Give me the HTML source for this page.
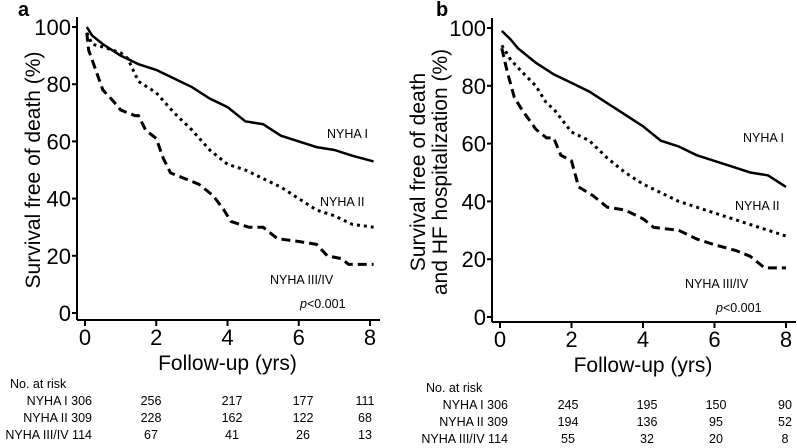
<!DOCTYPE html>
<html><head><meta charset="utf-8"><style>
body{margin:0;background:#fff}
svg text{font-family:"Liberation Sans",Arial,sans-serif;fill:#000}
</style></head><body>
<svg width="797" height="443" viewBox="0 0 797 443">
<g id="pa"></g>
<g id="pb"></g>
</svg>
<script>
const xTicks=[0,2,4,6,8];
const yTicks=[0,20,40,60,80,100];
const aT1=[0.05,0.2,0.5,1,1.5,2,2.5,3,3.5,4,4.5,5,5.5,6,6.5,7,7.5,8.1];
const aV1=[100,97,94,90,87,85,82,79,75,72,67,66,62,60,58,57,55,53];
const aT2=[0.05,0.2,0.5,1,1.2,1.5,2,2.5,3,3.5,4,4.5,5,5.5,6,6.5,7,7.5,8.1];
const aV2=[98,94,93,91,89,81,77,70,64,57,52,50,47,44,40,36,34,31,30];
const aT3=[0.05,0.1,0.3,0.5,0.8,1,1.4,1.5,1.7,2,2.2,2.4,2.8,3.2,3.6,3.9,4.1,4.6,5,5.4,6,6.5,6.8,7.2,7.4,8.1];
const aV3=[98,92,85,78,74,71,69,69,64,61,54,49,47,45,41,36,32,30,30,26,25,24,20,19,17,17];
const bT1=[0.05,0.3,0.5,1,1.5,2,2.5,3,3.5,4,4.5,5,5.5,6,6.5,7,7.5,8];
const bV1=[99,96,93,88,84,81,78,74,70,66,61,59,56,54,52,50,49,45];
const bT2=[0.05,0.3,0.6,1,1.3,1.5,2,2.5,3,3.5,4,4.5,5,5.5,6,6.5,7,7.5,8];
const bV2=[94,89,85,80,74,72,64,61,55,50,46,43,40,38,36,34,32,30,28];
const bT3=[0.05,0.2,0.4,0.6,1,1.3,1.5,1.7,2,2.2,2.6,3,3.5,4,4.3,5,5.5,6,6.6,7,7.4,8];
const bV3=[93,85,76,72,65,62,62,56,54,45,42,38,37,34,31,30,27,25,23,21,17,17];
const riskA=[["NYHA I 306",256,217,177,111],["NYHA II 309",228,162,122,68],["NYHA III/IV 114",67,41,26,13]];
const riskB=[["NYHA I 306",245,195,150,90],["NYHA II 309",194,136,95,52],["NYHA III/IV 114",55,32,20,8]];
const NS="http://www.w3.org/2000/svg";
function mk(p,tag,at,txt){const e=document.createElementNS(NS,tag);for(const k in at)e.setAttribute(k,at[k]);if(txt!==undefined)e.textContent=txt;p.appendChild(e);return e;}
function panel(g,c){
 const X=t=>c.x0+(c.x8-c.x0)*t/8, Y=v=>c.y0-(c.y0-c.y100)*v/100;
 let e=mk(g,'text',{x:c.lx,y:c.ly,'font-size':20,'font-weight':'bold'},c.letter);
 
 
 e=mk(g,'line',{x1:c.ax,y1:c.y100-10,x2:c.ax,y2:c.axy,stroke:'#000','stroke-width':2});
 
 
 e=mk(g,'line',{x1:c.ax,y1:c.axy,x2:c.x8+10,y2:c.axy,stroke:'#000','stroke-width':2});
 
 
 yTicks.forEach(v=>{mk(g,'line',{x1:c.ax-5,y1:Y(v),x2:c.ax,y2:Y(v),stroke:'#000','stroke-width':2});
  e=mk(g,'text',{x:c.ax-6,y:Y(v)+8,'font-size':22,'text-anchor':'end'},v);
  
  });
 xTicks.forEach(t=>{mk(g,'line',{x1:X(t),y1:c.axy,x2:X(t),y2:c.axy+6,stroke:'#000','stroke-width':2});
  e=mk(g,'text',{x:X(t),y:c.axy+25,'font-size':22,'text-anchor':'middle'},t);
  
  });
 e=mk(g,'text',{x:(c.x0+c.x8)/2,y:c.axy+50,'font-size':21,'text-anchor':'middle'},'Follow-up (yrs)');
 
 
 c.ytitle.forEach((s,i)=>{e=mk(g,'text',{x:0,y:0,'font-size':21,'text-anchor':'middle',transform:`translate(${c.ytx[i]},${c.yty}) rotate(-90)`},s);
  
  });
 const dash=['','3,4','9,5'];
 c.series.forEach((s,i)=>{let d=`M${X(s[0][0])},${Y(s[1][0])}`;
  for(let k=1;k<s[0].length;k++){d+=`L${X(s[0][k])},${Y(s[1][k])}`;}
  e=mk(g,'path',{d:d,fill:'none',stroke:'#000','stroke-width':i==0?2.5:3,'stroke-dasharray':dash[i]});
  
  });
 c.labels.forEach(l=>{e=mk(g,'text',{x:l[1],y:l[2],'font-size':12.5},l[0]);
  
  });
 e=mk(g,'text',{x:c.px,y:c.py,'font-size':12.5});
 mk(e,'tspan',{'font-style':'italic'},'p');mk(e,'tspan',{},'<0.001');
 
 
 e=mk(g,'text',{x:c.rx-82,y:c.ry,'font-size':12.5},'No. at risk');
 
 
 c.risk.forEach((r,i)=>{const y=c.ry+17*(i+1);
  e=mk(g,'text',{x:c.rx,y:y,'font-size':12.5,'text-anchor':'end'},r[0]);
  
  
  for(let j=1;j<5;j++){e=mk(g,'text',{x:c.rc[j-1],y:y,'font-size':12.5,'text-anchor':'middle'},r[j]);
   
   }});
}
panel(document.getElementById('pa'),{letter:'a',lx:18,ly:16,ax:77,axy:320,x0:85,x8:370,y0:313,y100:27,
 ytitle:['Survival free of death (%)'],ytx:[40],yty:170,
 series:[[aT1,aV1],[aT2,aV2],[aT3,aV3]],
 labels:[['NYHA I',327,138],['NYHA II',320,206],['NYHA III/IV',270,284]],px:300,py:308,
 risk:riskA,rx:92,ry:388,rc:[151,232,303,365]});
panel(document.getElementById('pb'),{letter:'b',lx:436,ly:16,ax:492,axy:322,x0:500,x8:786,y0:317,y100:28,
 ytitle:['Survival free of death','and HF hospitalization (%)'],ytx:[425,447],yty:172,
 series:[[bT1,bV1],[bT2,bV2],[bT3,bV3]],
 labels:[['NYHA I',743,142],['NYHA II',735,210],['NYHA III/IV',685,288]],px:716,py:312,
 risk:riskB,rx:508,ry:392,rc:[568,647,716,785]});
</script>
</body></html>
